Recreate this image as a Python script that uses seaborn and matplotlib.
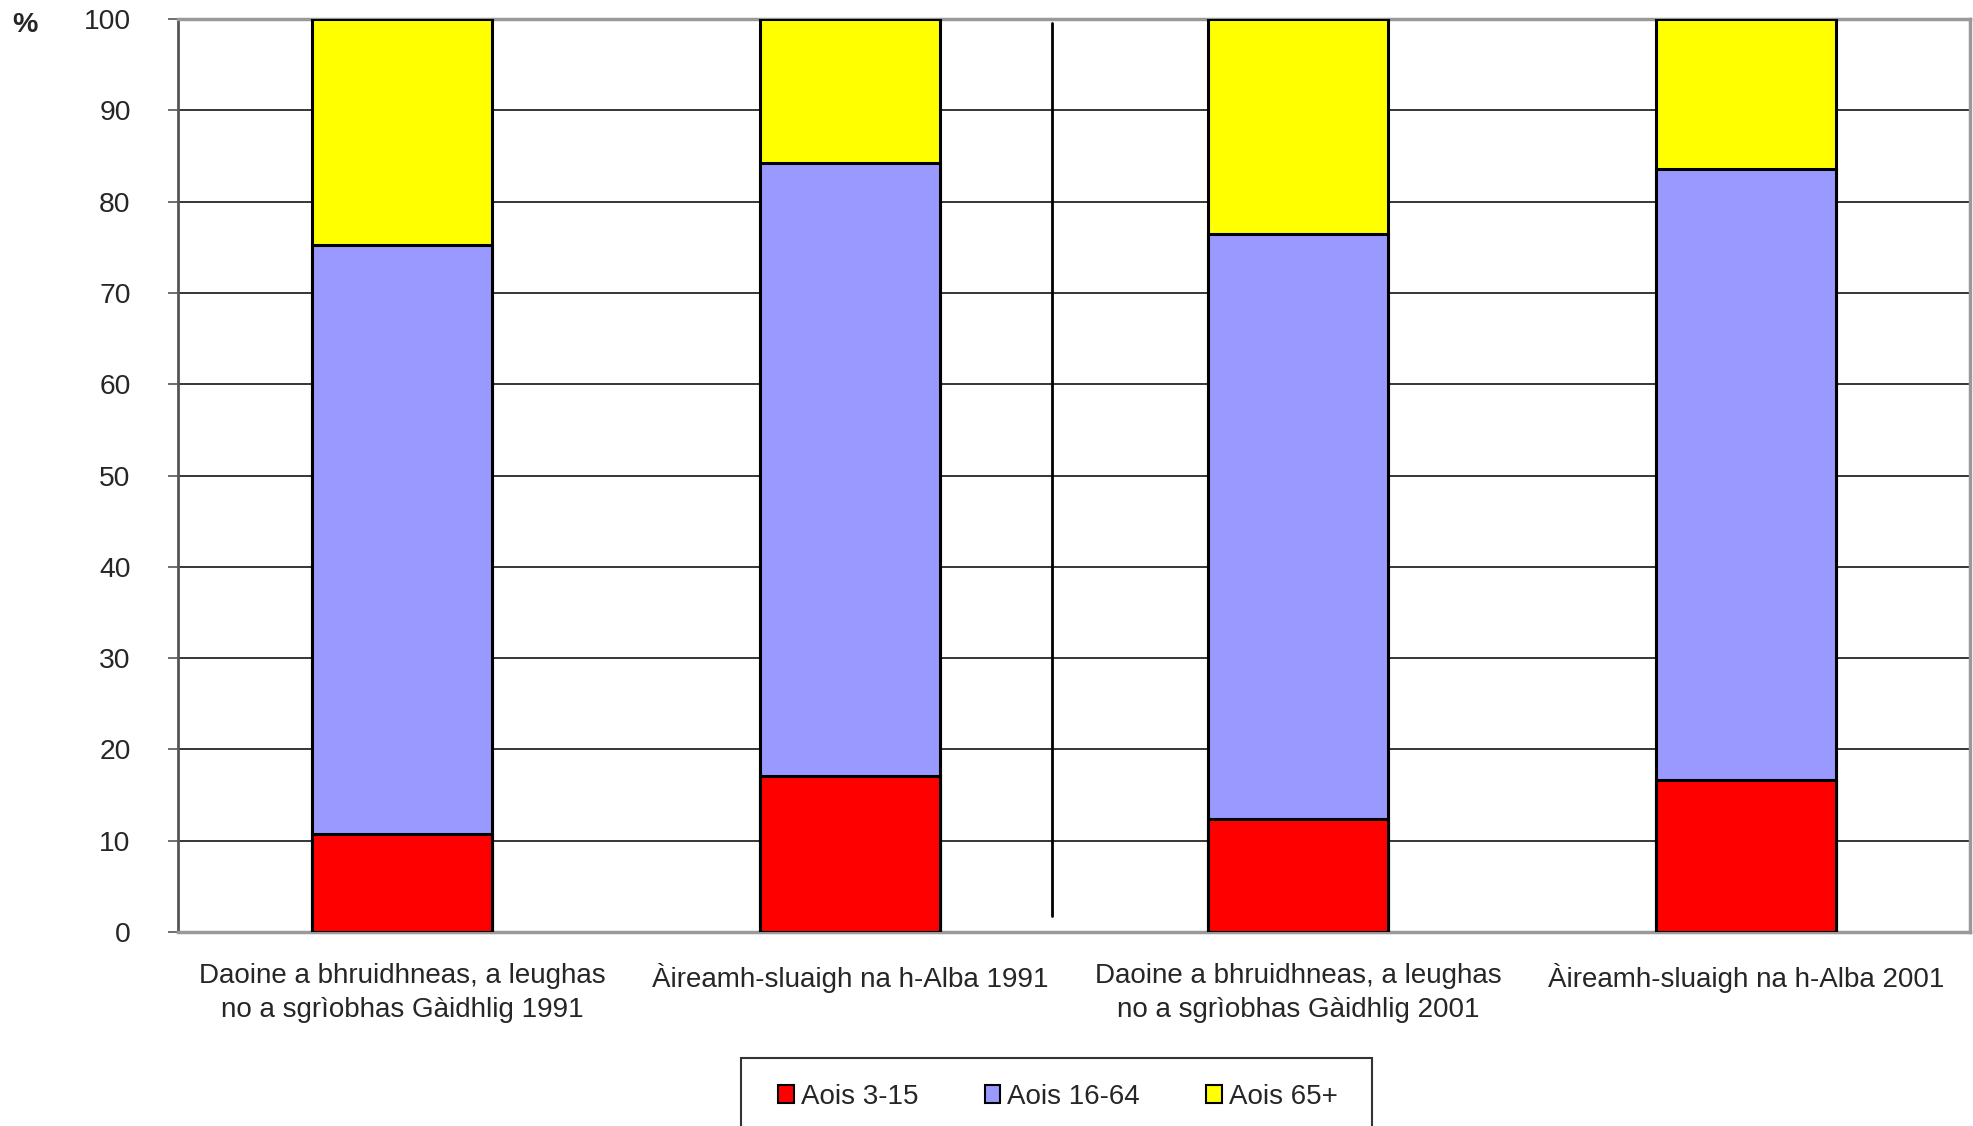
import matplotlib
matplotlib.use("Agg")
import matplotlib.pyplot as plt
import numpy as np
import seaborn as sns
from matplotlib.patches import Patch, Rectangle

categories = [
    "Daoine a bhruidhneas, a leughas\nno a sgrìobhas Gàidhlig 1991",
    "Àireamh-sluaigh na h-Alba 1991",
    "Daoine a bhruidhneas, a leughas\nno a sgrìobhas Gàidhlig 2001",
    "Àireamh-sluaigh na h-Alba 2001",
]
series_names = ["Aois 3-15", "Aois 16-64", "Aois 65+"]
age_3_15 = [10.7, 17.1, 12.4, 16.6]
age_16_64 = [64.6, 67.1, 64.0, 67.0]
age_65_plus = [24.7, 15.8, 23.6, 16.4]
colors = ["#FF0000", "#9999FF", "#FFFF00"]
yticks = list(range(0, 101, 10))

sns.set_style("white")
plt.rcParams["font.family"] = ["Liberation Sans", "DejaVu Sans"]

fig = plt.figure(figsize=(19.73, 11.26), dpi=100)
ax = fig.add_axes([0.0902, 0.1723, 0.9083, 0.8108])

# stack by drawing cumulative totals from the top down
layers = np.array([age_3_15, age_16_64, age_65_plus])
cum = np.cumsum(layers, axis=0)
for i in range(len(series_names) - 1, -1, -1):
    sns.barplot(x=categories, y=cum[i], order=categories, color=colors[i],
                edgecolor="black", linewidth=2.2, width=0.4, saturation=1,
                ax=ax, zorder=3)

ax.set_ylim(0, 100)
ax.set_xlim(-0.5, len(categories) - 0.5)
ax.set_yticks(yticks)
ax.set_yticklabels([str(t) for t in yticks], fontsize=20.3)
ax.tick_params(axis="y", direction="out", length=7, width=1.2, pad=27,
               left=True, color="#555555")
ax.tick_params(axis="x", length=0, pad=22, labelsize=20)
for lab in ax.get_xticklabels():
    lab.set_linespacing(1.42)
ax.set_xlabel("")
ax.set_ylabel("")
ax.yaxis.grid(True, color="black", linewidth=1.1, zorder=0)
ax.set_axisbelow(True)

for side in ["top", "right", "bottom"]:
    ax.spines[side].set_color("#999999")
    ax.spines[side].set_linewidth(2.5)
ax.spines["left"].set_color("#555555")
ax.spines["left"].set_linewidth(2)

# separator between 1991 and 2001 groups
ax.axvline(1.45, ymin=0.0175, ymax=0.9956, color="black", linewidth=2, zorder=4)

fig.text(0.006, 0.978, "%", fontsize=20.5, fontweight="bold", va="center", ha="left")

# legend box runs off the bottom edge of the image
fig.patches.append(Rectangle((741 / 1973, -0.02), 631 / 1973, 0.02 + 68 / 1126,
                             transform=fig.transFigure, facecolor="white",
                             edgecolor="#333333", linewidth=1.5, zorder=1))
handles = [Patch(facecolor=c, edgecolor="black", linewidth=1.5) for c in colors]
leg = fig.legend(handles, series_names, loc="center",
                 bbox_to_anchor=(0.5362, 1 - 1097 / 1126), ncol=3, fontsize=20,
                 frameon=False, handlelength=0.55, handleheight=0.6,
                 handletextpad=0.25, columnspacing=2.4)
leg.set_zorder(5)

fig.savefig("out.png", dpi=100)
